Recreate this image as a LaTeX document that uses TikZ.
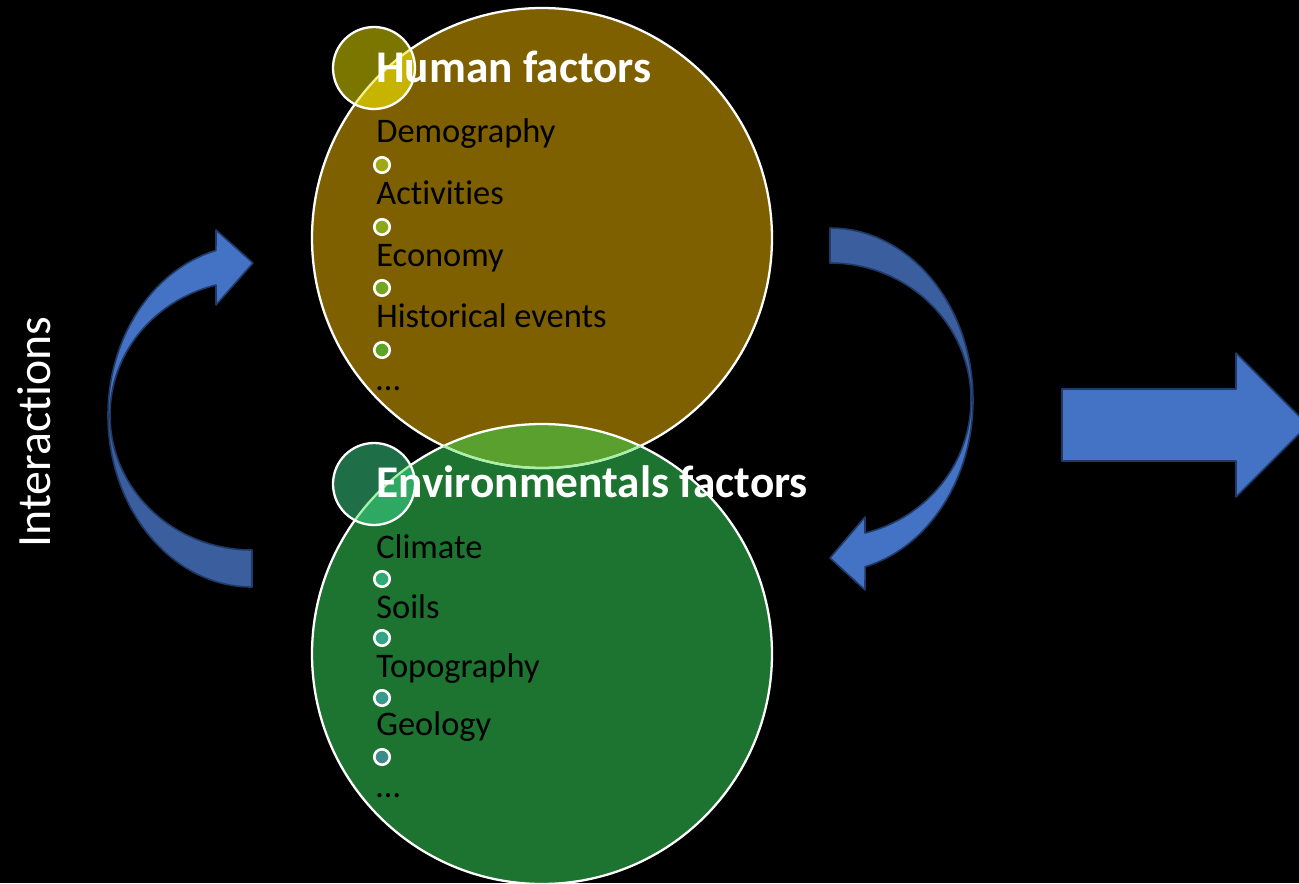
\documentclass[tikz,border=0pt]{standalone}
\usepackage{fontspec}
\setmainfont{Carlito}[Ligatures=NoCommon]

\definecolor{humanbrown}{HTML}{7F6000}
\definecolor{envgreen}{HTML}{1D7330}
\definecolor{overlapgreen}{HTML}{5AA02E}
\definecolor{paleline}{HTML}{A8EFA8}
\definecolor{smallolive}{HTML}{7A7600}
\definecolor{smallyellow}{HTML}{C6B400}
\definecolor{paleyellow}{HTML}{F2F08A}
\definecolor{smallteal}{HTML}{1E6E48}
\definecolor{smalllight}{HTML}{2EA862}
\definecolor{arrowfront}{HTML}{4472C4}
\definecolor{arrowback}{HTML}{3A5E9E}
\definecolor{arrowline}{HTML}{1F3A66}

\def \listsize {\fontsize{19.6}{23}\selectfont}
\def \titlesize {\fontsize{25.8}{30}\selectfont}
\def \bigr {230}
\def \smallr {41}

\begin{document}
\begin{tikzpicture}[x=0.02cm, y=-0.02cm,
  title/.style={anchor=base west, inner sep=0, text=white, font=\titlesize\bfseries},
  item/.style={anchor=base west, inner sep=0, font=\listsize},
  dot/.style={draw=white, line width=1.5pt, circle, inner sep=0, minimum size=0.31cm},
  arrowpart/.style={draw=arrowline, line width=0.9pt, line join=round},
  ring/.style={draw=white, line width=1.3pt}]
\fill[black] (0,0) rectangle (1299,883);
\clip (0,0) rectangle (1299,883);

% big circles
\fill[humanbrown] (542,238) circle[radius=\bigr];
\fill[envgreen] (542,654) circle[radius=\bigr];
\begin{scope}
\clip (542,238) circle[radius=\bigr];
\fill[overlapgreen] (542,654) circle[radius=\bigr];
\end{scope}
\draw[ring] (542,238) circle[radius=\bigr];
\draw[ring] (542,654) circle[radius=\bigr];
\begin{scope}
\clip (542,654) circle[radius=\bigr];
\draw[ring, draw=paleline] (542,238) circle[radius=\bigr];
\end{scope}

% small circles
\fill[smallolive] (374,68) circle[radius=\smallr];
\begin{scope}
\clip (542,238) circle[radius=\bigr];
\fill[smallyellow] (374,68) circle[radius=\smallr];
\end{scope}
\begin{scope}
\clip (374,68) circle[radius=\smallr];
\draw[ring, draw=paleyellow] (542,238) circle[radius=\bigr];
\end{scope}
\draw[ring] (374,68) circle[radius=\smallr];

\fill[smallteal] (374,484) circle[radius=\smallr];
\begin{scope}
\clip (542,654) circle[radius=\bigr];
\fill[smalllight] (374,484) circle[radius=\smallr];
\end{scope}
\begin{scope}
\clip (374,484) circle[radius=\smallr];
\draw[ring, draw=paleline] (542,654) circle[radius=\bigr];
\end{scope}
\draw[ring] (374,484) circle[radius=\smallr];

% human factors
\node[title] (human) at (376,82) {Human factors};
\node[item] (demography) at (376,142) {Demography};
\node[dot, fill={rgb,255:red,160;green,168;blue,22}] (hdot1) at (382,165) {};
\node[item] (activities) at (376,204) {Activities};
\node[dot, fill={rgb,255:red,140;green,168;blue,26}] (hdot2) at (382,227) {};
\node[item] (economy) at (376,266) {Economy};
\node[dot, fill={rgb,255:red,118;green,166;blue,32}] (hdot3) at (382,288) {};
\node[item] (historical) at (376,327) {Historical events};
\node[dot, fill={rgb,255:red,92;green,164;blue,36}] (hdot4) at (382,350) {};
\node[item] (hmore) at (376,390) {\dots};

% environmental factors
\node[title] (environment) at (376,497) {Environmentals factors};
\node[item] (climate) at (376,558) {Climate};
\node[dot, fill={rgb,255:red,46;green,170;blue,114}] (edot1) at (382,579) {};
\node[item] (soils) at (376,618) {Soils};
\node[dot, fill={rgb,255:red,52;green,164;blue,134}] (edot2) at (382,638) {};
\node[item] (topography) at (376,677) {Topography};
\node[dot, fill={rgb,255:red,58;green,152;blue,140}] (edot3) at (382,698) {};
\node[item] (geology) at (376,735) {Geology};
\node[dot, fill={rgb,255:red,62;green,138;blue,136}] (edot4) at (382,757) {};
\node[item] (emore) at (376,797) {\dots};

% interactions
\node[rotate=90, inner sep=0, text=white, font=\fontsize{27.2}{31}\selectfont] (interactions) at (34,432) {Interactions};

% left curved arrow
\draw[arrowpart, fill=arrowback] (108,415) arc[start angle=180, end angle=90, x radius=144, y radius=172]
  -- (252,550) arc[start angle=90, end angle=180, x radius=142, y radius=135] -- cycle;
\draw[arrowpart, fill=arrowfront] (108,415) arc[start angle=180, end angle=255.5, x radius=144, y radius=170]
  -- (216,230) -- (253,263) -- (216,305) -- (216,285)
  arc[start angle=255.3, end angle=180, x radius=142, y radius=134] -- cycle;

% right curved arrow
\draw[arrowpart, fill=arrowback] (830,228) arc[start angle=-90, end angle=0, x radius=143, y radius=172]
  -- (971,400) arc[start angle=0, end angle=-90, x radius=141, y radius=137] -- cycle;
\draw[arrowpart, fill=arrowfront] (973,400) arc[start angle=0, end angle=75.8, x radius=143, y radius=172]
  -- (865,590) -- (830,558) -- (865,517) -- (865,533)
  arc[start angle=75.6, end angle=0, x radius=141, y radius=137] -- cycle;

% big arrow
\draw[arrowpart, fill=arrowfront] (1062,389) -- (1236,389) -- (1236,353) -- (1308,425)
  -- (1236,497) -- (1236,461) -- (1062,461) -- cycle;
\end{tikzpicture}
\end{document}
